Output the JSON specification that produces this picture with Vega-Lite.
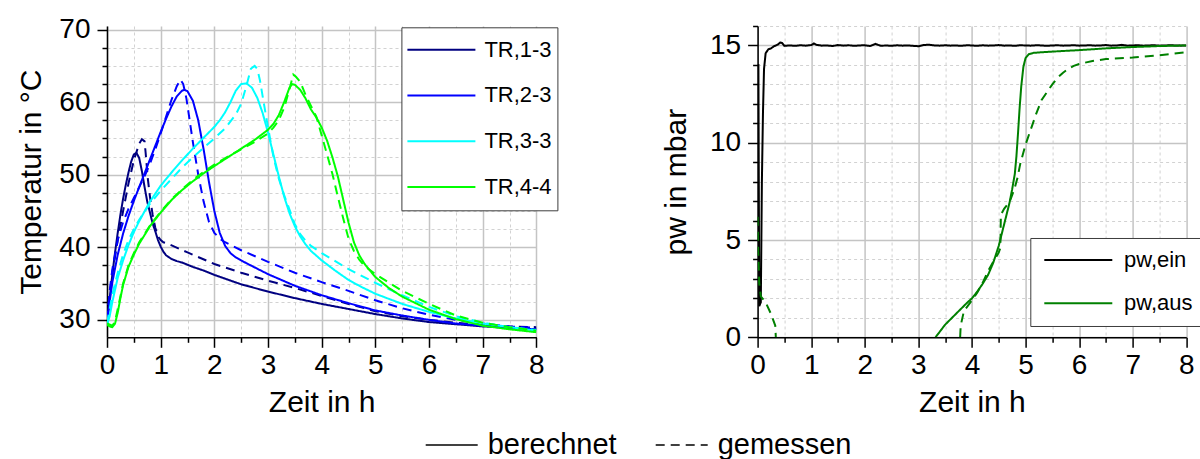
{
  "$schema": "https://vega.github.io/schema/vega-lite/v6.json",
  "background": "white",
  "padding": {"left": 16, "top": 12, "right": 0, "bottom": 0},
  "bounds": "flush",
  "spacing": 220.6,
  "config": {
    "font": "Liberation Sans",
    "view": {"stroke": null},
    "axis": {
      "domainColor": "black", "domainWidth": 1.5, "tickColor": "black", "tickWidth": 1.5,
      "labelColor": "black", "labelFontSize": 28, "titleColor": "black", "titleFontSize": 30, "titleFontWeight": "normal",
      "labelOverlap": false, "labelFlush": false, "labelBound": false
    }
  },
  "datasets": {
    "temp": [
      {"s":"TR,1-3","k":"berechnet","t":0,"T":29.8},{"s":"TR,1-3","k":"berechnet","t":0.05,"T":33},{"s":"TR,1-3","k":"berechnet","t":0.1,"T":36.3},{"s":"TR,1-3","k":"berechnet","t":0.15,"T":39.3},{"s":"TR,1-3","k":"berechnet","t":0.2,"T":42},{"s":"TR,1-3","k":"berechnet","t":0.25,"T":44.5},{"s":"TR,1-3","k":"berechnet","t":0.3,"T":46.7},{"s":"TR,1-3","k":"berechnet","t":0.35,"T":48.6},{"s":"TR,1-3","k":"berechnet","t":0.4,"T":50.3},{"s":"TR,1-3","k":"berechnet","t":0.45,"T":51.8},{"s":"TR,1-3","k":"berechnet","t":0.5,"T":52.8},{"s":"TR,1-3","k":"berechnet","t":0.55,"T":53},{"s":"TR,1-3","k":"berechnet","t":0.6,"T":52.3},{"s":"TR,1-3","k":"berechnet","t":0.65,"T":50.5},{"s":"TR,1-3","k":"berechnet","t":0.7,"T":48.3},{"s":"TR,1-3","k":"berechnet","t":0.75,"T":46.3},{"s":"TR,1-3","k":"berechnet","t":0.8,"T":44.8},{"s":"TR,1-3","k":"berechnet","t":0.85,"T":43.3},{"s":"TR,1-3","k":"berechnet","t":0.9,"T":42.2},{"s":"TR,1-3","k":"berechnet","t":0.95,"T":41},{"s":"TR,1-3","k":"berechnet","t":1,"T":40.1},{"s":"TR,1-3","k":"berechnet","t":1.05,"T":39.4},{"s":"TR,1-3","k":"berechnet","t":1.1,"T":38.9},{"s":"TR,1-3","k":"berechnet","t":1.2,"T":38.4},{"s":"TR,1-3","k":"berechnet","t":1.3,"T":38.1},{"s":"TR,1-3","k":"berechnet","t":1.4,"T":37.9},{"s":"TR,1-3","k":"berechnet","t":1.6,"T":37.3},{"s":"TR,1-3","k":"berechnet","t":1.8,"T":36.8},{"s":"TR,1-3","k":"berechnet","t":2,"T":36.2},{"s":"TR,1-3","k":"berechnet","t":2.5,"T":34.9},{"s":"TR,1-3","k":"berechnet","t":3,"T":33.9},{"s":"TR,1-3","k":"berechnet","t":3.5,"T":33},{"s":"TR,1-3","k":"berechnet","t":4,"T":32.2},{"s":"TR,1-3","k":"berechnet","t":4.5,"T":31.5},{"s":"TR,1-3","k":"berechnet","t":5,"T":30.8},{"s":"TR,1-3","k":"berechnet","t":5.5,"T":30.2},{"s":"TR,1-3","k":"berechnet","t":6,"T":29.7},{"s":"TR,1-3","k":"berechnet","t":6.5,"T":29.4},{"s":"TR,1-3","k":"berechnet","t":7,"T":29.1},{"s":"TR,1-3","k":"berechnet","t":7.5,"T":28.9},{"s":"TR,1-3","k":"berechnet","t":8,"T":28.7},
      {"s":"TR,1-3","k":"gemessen","t":0,"T":30},{"s":"TR,1-3","k":"gemessen","t":0.05,"T":33.5},{"s":"TR,1-3","k":"gemessen","t":0.1,"T":36.5},{"s":"TR,1-3","k":"gemessen","t":0.2,"T":41},{"s":"TR,1-3","k":"gemessen","t":0.3,"T":45},{"s":"TR,1-3","k":"gemessen","t":0.4,"T":48.8},{"s":"TR,1-3","k":"gemessen","t":0.5,"T":52},{"s":"TR,1-3","k":"gemessen","t":0.6,"T":54.3},{"s":"TR,1-3","k":"gemessen","t":0.65,"T":54.9},{"s":"TR,1-3","k":"gemessen","t":0.7,"T":54.6},{"s":"TR,1-3","k":"gemessen","t":0.72,"T":53},{"s":"TR,1-3","k":"gemessen","t":0.76,"T":49.5},{"s":"TR,1-3","k":"gemessen","t":0.8,"T":47},{"s":"TR,1-3","k":"gemessen","t":0.85,"T":44.5},{"s":"TR,1-3","k":"gemessen","t":0.9,"T":42.7},{"s":"TR,1-3","k":"gemessen","t":0.95,"T":41.5},{"s":"TR,1-3","k":"gemessen","t":1,"T":41},{"s":"TR,1-3","k":"gemessen","t":1.05,"T":40.7},{"s":"TR,1-3","k":"gemessen","t":1.1,"T":40.6},{"s":"TR,1-3","k":"gemessen","t":1.5,"T":39.3},{"s":"TR,1-3","k":"gemessen","t":2,"T":37.7},{"s":"TR,1-3","k":"gemessen","t":2.5,"T":36.5},{"s":"TR,1-3","k":"gemessen","t":3,"T":35.4},{"s":"TR,1-3","k":"gemessen","t":3.5,"T":34.4},{"s":"TR,1-3","k":"gemessen","t":4,"T":33.3},{"s":"TR,1-3","k":"gemessen","t":4.5,"T":32.2},{"s":"TR,1-3","k":"gemessen","t":5,"T":31.2},{"s":"TR,1-3","k":"gemessen","t":5.5,"T":30.5},{"s":"TR,1-3","k":"gemessen","t":6,"T":30},{"s":"TR,1-3","k":"gemessen","t":6.5,"T":29.6},{"s":"TR,1-3","k":"gemessen","t":7,"T":29.3},{"s":"TR,1-3","k":"gemessen","t":7.5,"T":29.1},{"s":"TR,1-3","k":"gemessen","t":8,"T":29},
      {"s":"TR,2-3","k":"berechnet","t":0,"T":29.5},{"s":"TR,2-3","k":"berechnet","t":0.05,"T":32.5},{"s":"TR,2-3","k":"berechnet","t":0.1,"T":35.2},{"s":"TR,2-3","k":"berechnet","t":0.2,"T":39},{"s":"TR,2-3","k":"berechnet","t":0.3,"T":41.9},{"s":"TR,2-3","k":"berechnet","t":0.4,"T":44.3},{"s":"TR,2-3","k":"berechnet","t":0.5,"T":46.4},{"s":"TR,2-3","k":"berechnet","t":0.6,"T":48.3},{"s":"TR,2-3","k":"berechnet","t":0.7,"T":50.2},{"s":"TR,2-3","k":"berechnet","t":0.8,"T":52.1},{"s":"TR,2-3","k":"berechnet","t":0.9,"T":54},{"s":"TR,2-3","k":"berechnet","t":1,"T":55.9},{"s":"TR,2-3","k":"berechnet","t":1.1,"T":57.7},{"s":"TR,2-3","k":"berechnet","t":1.2,"T":59.4},{"s":"TR,2-3","k":"berechnet","t":1.3,"T":60.8},{"s":"TR,2-3","k":"berechnet","t":1.4,"T":61.6},{"s":"TR,2-3","k":"berechnet","t":1.45,"T":61.7},{"s":"TR,2-3","k":"berechnet","t":1.5,"T":61.5},{"s":"TR,2-3","k":"berechnet","t":1.6,"T":60.2},{"s":"TR,2-3","k":"berechnet","t":1.7,"T":57.5},{"s":"TR,2-3","k":"berechnet","t":1.8,"T":53.5},{"s":"TR,2-3","k":"berechnet","t":1.9,"T":49},{"s":"TR,2-3","k":"berechnet","t":2,"T":45},{"s":"TR,2-3","k":"berechnet","t":2.1,"T":42},{"s":"TR,2-3","k":"berechnet","t":2.2,"T":40.2},{"s":"TR,2-3","k":"berechnet","t":2.3,"T":39.2},{"s":"TR,2-3","k":"berechnet","t":2.4,"T":38.6},{"s":"TR,2-3","k":"berechnet","t":2.6,"T":37.8},{"s":"TR,2-3","k":"berechnet","t":3,"T":36.3},{"s":"TR,2-3","k":"berechnet","t":3.5,"T":34.7},{"s":"TR,2-3","k":"berechnet","t":4,"T":33.4},{"s":"TR,2-3","k":"berechnet","t":4.5,"T":32.3},{"s":"TR,2-3","k":"berechnet","t":5,"T":31.3},{"s":"TR,2-3","k":"berechnet","t":5.5,"T":30.6},{"s":"TR,2-3","k":"berechnet","t":6,"T":30},{"s":"TR,2-3","k":"berechnet","t":6.5,"T":29.5},{"s":"TR,2-3","k":"berechnet","t":7,"T":29.2},{"s":"TR,2-3","k":"berechnet","t":7.5,"T":28.9},{"s":"TR,2-3","k":"berechnet","t":8,"T":28.7},
      {"s":"TR,2-3","k":"gemessen","t":0,"T":30},{"s":"TR,2-3","k":"gemessen","t":0.05,"T":34},{"s":"TR,2-3","k":"gemessen","t":0.1,"T":37},{"s":"TR,2-3","k":"gemessen","t":0.2,"T":41},{"s":"TR,2-3","k":"gemessen","t":0.3,"T":43.5},{"s":"TR,2-3","k":"gemessen","t":0.4,"T":45.3},{"s":"TR,2-3","k":"gemessen","t":0.5,"T":46.8},{"s":"TR,2-3","k":"gemessen","t":0.6,"T":48.3},{"s":"TR,2-3","k":"gemessen","t":0.7,"T":49.8},{"s":"TR,2-3","k":"gemessen","t":0.8,"T":51.5},{"s":"TR,2-3","k":"gemessen","t":0.9,"T":53.5},{"s":"TR,2-3","k":"gemessen","t":1,"T":55.7},{"s":"TR,2-3","k":"gemessen","t":1.1,"T":58},{"s":"TR,2-3","k":"gemessen","t":1.2,"T":60.3},{"s":"TR,2-3","k":"gemessen","t":1.3,"T":62.2},{"s":"TR,2-3","k":"gemessen","t":1.37,"T":63.1},{"s":"TR,2-3","k":"gemessen","t":1.42,"T":62.5},{"s":"TR,2-3","k":"gemessen","t":1.48,"T":60.5},{"s":"TR,2-3","k":"gemessen","t":1.55,"T":57},{"s":"TR,2-3","k":"gemessen","t":1.6,"T":54.5},{"s":"TR,2-3","k":"gemessen","t":1.7,"T":50},{"s":"TR,2-3","k":"gemessen","t":1.8,"T":46.3},{"s":"TR,2-3","k":"gemessen","t":1.9,"T":43.5},{"s":"TR,2-3","k":"gemessen","t":2,"T":42},{"s":"TR,2-3","k":"gemessen","t":2.1,"T":41.2},{"s":"TR,2-3","k":"gemessen","t":2.2,"T":40.7},{"s":"TR,2-3","k":"gemessen","t":2.5,"T":39.6},{"s":"TR,2-3","k":"gemessen","t":3,"T":38},{"s":"TR,2-3","k":"gemessen","t":3.5,"T":36.5},{"s":"TR,2-3","k":"gemessen","t":4,"T":35.2},{"s":"TR,2-3","k":"gemessen","t":4.5,"T":34},{"s":"TR,2-3","k":"gemessen","t":5,"T":32.7},{"s":"TR,2-3","k":"gemessen","t":5.5,"T":31.6},{"s":"TR,2-3","k":"gemessen","t":6,"T":30.7},{"s":"TR,2-3","k":"gemessen","t":6.5,"T":30},{"s":"TR,2-3","k":"gemessen","t":7,"T":29.5},{"s":"TR,2-3","k":"gemessen","t":7.5,"T":29.1},{"s":"TR,2-3","k":"gemessen","t":8,"T":28.9},
      {"s":"TR,3-3","k":"berechnet","t":0,"T":29.3},{"s":"TR,3-3","k":"berechnet","t":0.05,"T":30.5},{"s":"TR,3-3","k":"berechnet","t":0.1,"T":32.5},{"s":"TR,3-3","k":"berechnet","t":0.2,"T":35.8},{"s":"TR,3-3","k":"berechnet","t":0.3,"T":38.2},{"s":"TR,3-3","k":"berechnet","t":0.4,"T":40.3},{"s":"TR,3-3","k":"berechnet","t":0.5,"T":42.1},{"s":"TR,3-3","k":"berechnet","t":0.6,"T":43.6},{"s":"TR,3-3","k":"berechnet","t":0.8,"T":46.3},{"s":"TR,3-3","k":"berechnet","t":1,"T":48.5},{"s":"TR,3-3","k":"berechnet","t":1.2,"T":50.3},{"s":"TR,3-3","k":"berechnet","t":1.4,"T":52},{"s":"TR,3-3","k":"berechnet","t":1.6,"T":53.6},{"s":"TR,3-3","k":"berechnet","t":1.8,"T":55.1},{"s":"TR,3-3","k":"berechnet","t":2,"T":56.6},{"s":"TR,3-3","k":"berechnet","t":2.1,"T":57.5},{"s":"TR,3-3","k":"berechnet","t":2.2,"T":58.6},{"s":"TR,3-3","k":"berechnet","t":2.3,"T":60},{"s":"TR,3-3","k":"berechnet","t":2.4,"T":61.6},{"s":"TR,3-3","k":"berechnet","t":2.5,"T":62.5},{"s":"TR,3-3","k":"berechnet","t":2.6,"T":62.6},{"s":"TR,3-3","k":"berechnet","t":2.7,"T":62},{"s":"TR,3-3","k":"berechnet","t":2.8,"T":60.6},{"s":"TR,3-3","k":"berechnet","t":2.9,"T":58.5},{"s":"TR,3-3","k":"berechnet","t":3,"T":55.8},{"s":"TR,3-3","k":"berechnet","t":3.1,"T":52.8},{"s":"TR,3-3","k":"berechnet","t":3.2,"T":49.8},{"s":"TR,3-3","k":"berechnet","t":3.3,"T":47},{"s":"TR,3-3","k":"berechnet","t":3.4,"T":44.7},{"s":"TR,3-3","k":"berechnet","t":3.5,"T":42.9},{"s":"TR,3-3","k":"berechnet","t":3.6,"T":41.5},{"s":"TR,3-3","k":"berechnet","t":3.7,"T":40.4},{"s":"TR,3-3","k":"berechnet","t":3.8,"T":39.5},{"s":"TR,3-3","k":"berechnet","t":4,"T":38.2},{"s":"TR,3-3","k":"berechnet","t":4.25,"T":36.8},{"s":"TR,3-3","k":"berechnet","t":4.5,"T":35.5},{"s":"TR,3-3","k":"berechnet","t":4.75,"T":34.5},{"s":"TR,3-3","k":"berechnet","t":5,"T":33.6},{"s":"TR,3-3","k":"berechnet","t":5.5,"T":32.2},{"s":"TR,3-3","k":"berechnet","t":6,"T":31.1},{"s":"TR,3-3","k":"berechnet","t":6.5,"T":30.2},{"s":"TR,3-3","k":"berechnet","t":7,"T":29.5},{"s":"TR,3-3","k":"berechnet","t":7.5,"T":29},{"s":"TR,3-3","k":"berechnet","t":8,"T":28.5},
      {"s":"TR,3-3","k":"gemessen","t":0,"T":29.5},{"s":"TR,3-3","k":"gemessen","t":0.05,"T":31.5},{"s":"TR,3-3","k":"gemessen","t":0.1,"T":33.5},{"s":"TR,3-3","k":"gemessen","t":0.2,"T":36.5},{"s":"TR,3-3","k":"gemessen","t":0.3,"T":39},{"s":"TR,3-3","k":"gemessen","t":0.4,"T":41},{"s":"TR,3-3","k":"gemessen","t":0.5,"T":42.5},{"s":"TR,3-3","k":"gemessen","t":0.6,"T":43.8},{"s":"TR,3-3","k":"gemessen","t":0.8,"T":46},{"s":"TR,3-3","k":"gemessen","t":1,"T":47.8},{"s":"TR,3-3","k":"gemessen","t":1.2,"T":49.4},{"s":"TR,3-3","k":"gemessen","t":1.4,"T":51},{"s":"TR,3-3","k":"gemessen","t":1.6,"T":52.4},{"s":"TR,3-3","k":"gemessen","t":1.8,"T":53.7},{"s":"TR,3-3","k":"gemessen","t":2,"T":55},{"s":"TR,3-3","k":"gemessen","t":2.2,"T":56.4},{"s":"TR,3-3","k":"gemessen","t":2.4,"T":58.3},{"s":"TR,3-3","k":"gemessen","t":2.5,"T":59.8},{"s":"TR,3-3","k":"gemessen","t":2.6,"T":62.3},{"s":"TR,3-3","k":"gemessen","t":2.68,"T":64.6},{"s":"TR,3-3","k":"gemessen","t":2.75,"T":65},{"s":"TR,3-3","k":"gemessen","t":2.8,"T":64.6},{"s":"TR,3-3","k":"gemessen","t":2.85,"T":63},{"s":"TR,3-3","k":"gemessen","t":2.9,"T":60.8},{"s":"TR,3-3","k":"gemessen","t":3,"T":56.5},{"s":"TR,3-3","k":"gemessen","t":3.1,"T":52.5},{"s":"TR,3-3","k":"gemessen","t":3.2,"T":49.5},{"s":"TR,3-3","k":"gemessen","t":3.3,"T":47.2},{"s":"TR,3-3","k":"gemessen","t":3.4,"T":45.2},{"s":"TR,3-3","k":"gemessen","t":3.5,"T":43.2},{"s":"TR,3-3","k":"gemessen","t":3.6,"T":41.8},{"s":"TR,3-3","k":"gemessen","t":3.7,"T":40.9},{"s":"TR,3-3","k":"gemessen","t":3.8,"T":40.2},{"s":"TR,3-3","k":"gemessen","t":4,"T":39.2},{"s":"TR,3-3","k":"gemessen","t":4.5,"T":37},{"s":"TR,3-3","k":"gemessen","t":5,"T":35.1},{"s":"TR,3-3","k":"gemessen","t":5.5,"T":33.4},{"s":"TR,3-3","k":"gemessen","t":6,"T":31.8},{"s":"TR,3-3","k":"gemessen","t":6.5,"T":30.5},{"s":"TR,3-3","k":"gemessen","t":7,"T":29.6},{"s":"TR,3-3","k":"gemessen","t":7.5,"T":29},{"s":"TR,3-3","k":"gemessen","t":8,"T":28.6},
      {"s":"TR,4-4","k":"berechnet","t":0,"T":29.3},{"s":"TR,4-4","k":"berechnet","t":0.05,"T":29.1},{"s":"TR,4-4","k":"berechnet","t":0.1,"T":29},{"s":"TR,4-4","k":"berechnet","t":0.15,"T":29.5},{"s":"TR,4-4","k":"berechnet","t":0.2,"T":31},{"s":"TR,4-4","k":"berechnet","t":0.25,"T":33},{"s":"TR,4-4","k":"berechnet","t":0.3,"T":34.8},{"s":"TR,4-4","k":"berechnet","t":0.4,"T":37.3},{"s":"TR,4-4","k":"berechnet","t":0.5,"T":39},{"s":"TR,4-4","k":"berechnet","t":0.6,"T":40.5},{"s":"TR,4-4","k":"berechnet","t":0.8,"T":42.9},{"s":"TR,4-4","k":"berechnet","t":1,"T":44.8},{"s":"TR,4-4","k":"berechnet","t":1.2,"T":46.5},{"s":"TR,4-4","k":"berechnet","t":1.4,"T":47.9},{"s":"TR,4-4","k":"berechnet","t":1.6,"T":49.1},{"s":"TR,4-4","k":"berechnet","t":1.8,"T":50.2},{"s":"TR,4-4","k":"berechnet","t":2,"T":51.2},{"s":"TR,4-4","k":"berechnet","t":2.25,"T":52.4},{"s":"TR,4-4","k":"berechnet","t":2.5,"T":53.6},{"s":"TR,4-4","k":"berechnet","t":2.75,"T":54.8},{"s":"TR,4-4","k":"berechnet","t":3,"T":56.2},{"s":"TR,4-4","k":"berechnet","t":3.1,"T":57},{"s":"TR,4-4","k":"berechnet","t":3.2,"T":58.2},{"s":"TR,4-4","k":"berechnet","t":3.3,"T":60},{"s":"TR,4-4","k":"berechnet","t":3.4,"T":62},{"s":"TR,4-4","k":"berechnet","t":3.45,"T":62.5},{"s":"TR,4-4","k":"berechnet","t":3.5,"T":62.4},{"s":"TR,4-4","k":"berechnet","t":3.6,"T":61.7},{"s":"TR,4-4","k":"berechnet","t":3.7,"T":60.5},{"s":"TR,4-4","k":"berechnet","t":3.8,"T":59},{"s":"TR,4-4","k":"berechnet","t":3.9,"T":57.9},{"s":"TR,4-4","k":"berechnet","t":4,"T":56.5},{"s":"TR,4-4","k":"berechnet","t":4.1,"T":54.7},{"s":"TR,4-4","k":"berechnet","t":4.2,"T":52.4},{"s":"TR,4-4","k":"berechnet","t":4.3,"T":49.8},{"s":"TR,4-4","k":"berechnet","t":4.4,"T":46.6},{"s":"TR,4-4","k":"berechnet","t":4.5,"T":43.4},{"s":"TR,4-4","k":"berechnet","t":4.6,"T":40.7},{"s":"TR,4-4","k":"berechnet","t":4.7,"T":38.9},{"s":"TR,4-4","k":"berechnet","t":4.8,"T":37.7},{"s":"TR,4-4","k":"berechnet","t":5,"T":35.9},{"s":"TR,4-4","k":"berechnet","t":5.25,"T":34.4},{"s":"TR,4-4","k":"berechnet","t":5.5,"T":33.2},{"s":"TR,4-4","k":"berechnet","t":6,"T":31.4},{"s":"TR,4-4","k":"berechnet","t":6.5,"T":30.1},{"s":"TR,4-4","k":"berechnet","t":7,"T":29.2},{"s":"TR,4-4","k":"berechnet","t":7.5,"T":28.7},{"s":"TR,4-4","k":"berechnet","t":8,"T":28.3},
      {"s":"TR,4-4","k":"gemessen","t":0,"T":29.5},{"s":"TR,4-4","k":"gemessen","t":0.1,"T":29.2},{"s":"TR,4-4","k":"gemessen","t":0.15,"T":29.8},{"s":"TR,4-4","k":"gemessen","t":0.2,"T":31.5},{"s":"TR,4-4","k":"gemessen","t":0.3,"T":35},{"s":"TR,4-4","k":"gemessen","t":0.4,"T":37.5},{"s":"TR,4-4","k":"gemessen","t":0.5,"T":39.2},{"s":"TR,4-4","k":"gemessen","t":0.6,"T":40.7},{"s":"TR,4-4","k":"gemessen","t":0.8,"T":43},{"s":"TR,4-4","k":"gemessen","t":1,"T":44.9},{"s":"TR,4-4","k":"gemessen","t":1.2,"T":46.6},{"s":"TR,4-4","k":"gemessen","t":1.4,"T":48},{"s":"TR,4-4","k":"gemessen","t":1.6,"T":49.3},{"s":"TR,4-4","k":"gemessen","t":1.8,"T":50.4},{"s":"TR,4-4","k":"gemessen","t":2,"T":51.4},{"s":"TR,4-4","k":"gemessen","t":2.25,"T":52.5},{"s":"TR,4-4","k":"gemessen","t":2.5,"T":53.5},{"s":"TR,4-4","k":"gemessen","t":2.75,"T":54.5},{"s":"TR,4-4","k":"gemessen","t":3,"T":55.7},{"s":"TR,4-4","k":"gemessen","t":3.1,"T":56.5},{"s":"TR,4-4","k":"gemessen","t":3.2,"T":57.5},{"s":"TR,4-4","k":"gemessen","t":3.3,"T":59.2},{"s":"TR,4-4","k":"gemessen","t":3.4,"T":61.8},{"s":"TR,4-4","k":"gemessen","t":3.47,"T":63.8},{"s":"TR,4-4","k":"gemessen","t":3.52,"T":63.5},{"s":"TR,4-4","k":"gemessen","t":3.6,"T":62.8},{"s":"TR,4-4","k":"gemessen","t":3.7,"T":61},{"s":"TR,4-4","k":"gemessen","t":3.8,"T":59.5},{"s":"TR,4-4","k":"gemessen","t":3.9,"T":58},{"s":"TR,4-4","k":"gemessen","t":4,"T":55.4},{"s":"TR,4-4","k":"gemessen","t":4.1,"T":52.8},{"s":"TR,4-4","k":"gemessen","t":4.2,"T":50.1},{"s":"TR,4-4","k":"gemessen","t":4.3,"T":47},{"s":"TR,4-4","k":"gemessen","t":4.4,"T":44},{"s":"TR,4-4","k":"gemessen","t":4.5,"T":41.2},{"s":"TR,4-4","k":"gemessen","t":4.6,"T":39.5},{"s":"TR,4-4","k":"gemessen","t":4.7,"T":38.3},{"s":"TR,4-4","k":"gemessen","t":4.8,"T":37.4},{"s":"TR,4-4","k":"gemessen","t":5,"T":36.3},{"s":"TR,4-4","k":"gemessen","t":5.5,"T":34},{"s":"TR,4-4","k":"gemessen","t":6,"T":32.2},{"s":"TR,4-4","k":"gemessen","t":6.5,"T":30.6},{"s":"TR,4-4","k":"gemessen","t":7,"T":29.6},{"s":"TR,4-4","k":"gemessen","t":7.5,"T":29},{"s":"TR,4-4","k":"gemessen","t":8,"T":28.5}
    ],
    "press": [
      {"s":"pw,ein","k":"berechnet","g":"a","t":0,"p":14},{"s":"pw,ein","k":"berechnet","g":"a","t":0.015,"p":14},{"s":"pw,ein","k":"berechnet","g":"a","t":0.03,"p":1.6},{"s":"pw,ein","k":"berechnet","g":"a","t":0.06,"p":1.8},{"s":"pw,ein","k":"berechnet","g":"a","t":0.08,"p":8},{"s":"pw,ein","k":"berechnet","g":"a","t":0.1,"p":11.5},{"s":"pw,ein","k":"berechnet","g":"a","t":0.12,"p":13.8},{"s":"pw,ein","k":"berechnet","g":"a","t":0.15,"p":14.6},{"s":"pw,ein","k":"berechnet","g":"a","t":0.2,"p":14.8},{"s":"pw,ein","k":"berechnet","g":"a","t":0.25,"p":14.85},{"s":"pw,ein","k":"berechnet","g":"a","t":0.3,"p":14.95},{"s":"pw,ein","k":"berechnet","g":"a","t":0.38,"p":15.05},{"s":"pw,ein","k":"berechnet","g":"a","t":0.42,"p":15.15},{"s":"pw,ein","k":"berechnet","g":"a","t":0.46,"p":15.12},{"s":"pw,ein","k":"berechnet","g":"a","t":0.5,"p":14.98},{"s":"pw,ein","k":"berechnet","g":"a","t":0.6,"p":15},{"s":"pw,ein","k":"berechnet","g":"a","t":0.7,"p":14.98},{"s":"pw,ein","k":"berechnet","g":"a","t":0.8,"p":15.01},{"s":"pw,ein","k":"berechnet","g":"a","t":0.9,"p":14.99},{"s":"pw,ein","k":"berechnet","g":"a","t":1,"p":15.02},{"s":"pw,ein","k":"berechnet","g":"a","t":1.05,"p":15.1},{"s":"pw,ein","k":"berechnet","g":"a","t":1.1,"p":15.03},{"s":"pw,ein","k":"berechnet","g":"a","t":1.2,"p":14.99},{"s":"pw,ein","k":"berechnet","g":"a","t":1.3,"p":15},{"s":"pw,ein","k":"berechnet","g":"a","t":1.4,"p":14.97},{"s":"pw,ein","k":"berechnet","g":"a","t":1.5,"p":15.02},{"s":"pw,ein","k":"berechnet","g":"a","t":1.6,"p":14.99},{"s":"pw,ein","k":"berechnet","g":"a","t":1.7,"p":15.01},{"s":"pw,ein","k":"berechnet","g":"a","t":1.8,"p":14.98},{"s":"pw,ein","k":"berechnet","g":"a","t":1.9,"p":15},{"s":"pw,ein","k":"berechnet","g":"a","t":2,"p":15.01},{"s":"pw,ein","k":"berechnet","g":"a","t":2.1,"p":14.97},{"s":"pw,ein","k":"berechnet","g":"a","t":2.2,"p":15.08},{"s":"pw,ein","k":"berechnet","g":"a","t":2.3,"p":14.98},{"s":"pw,ein","k":"berechnet","g":"a","t":2.4,"p":15},{"s":"pw,ein","k":"berechnet","g":"a","t":2.5,"p":14.98},{"s":"pw,ein","k":"berechnet","g":"a","t":2.6,"p":15.01},{"s":"pw,ein","k":"berechnet","g":"a","t":2.7,"p":14.99},{"s":"pw,ein","k":"berechnet","g":"a","t":2.8,"p":15},{"s":"pw,ein","k":"berechnet","g":"a","t":2.9,"p":14.98},{"s":"pw,ein","k":"berechnet","g":"a","t":3,"p":14.96},{"s":"pw,ein","k":"berechnet","g":"a","t":3.1,"p":15.02},{"s":"pw,ein","k":"berechnet","g":"a","t":3.2,"p":15.04},{"s":"pw,ein","k":"berechnet","g":"a","t":3.3,"p":15},{"s":"pw,ein","k":"berechnet","g":"a","t":3.4,"p":14.99},{"s":"pw,ein","k":"berechnet","g":"a","t":3.5,"p":15.01},{"s":"pw,ein","k":"berechnet","g":"a","t":3.6,"p":14.99},{"s":"pw,ein","k":"berechnet","g":"a","t":3.7,"p":15},{"s":"pw,ein","k":"berechnet","g":"a","t":3.8,"p":14.98},{"s":"pw,ein","k":"berechnet","g":"a","t":3.9,"p":15.01},{"s":"pw,ein","k":"berechnet","g":"a","t":4,"p":15},{"s":"pw,ein","k":"berechnet","g":"a","t":4.1,"p":14.98},{"s":"pw,ein","k":"berechnet","g":"a","t":4.2,"p":15.01},{"s":"pw,ein","k":"berechnet","g":"a","t":4.3,"p":14.99},{"s":"pw,ein","k":"berechnet","g":"a","t":4.4,"p":15},{"s":"pw,ein","k":"berechnet","g":"a","t":4.5,"p":15.02},{"s":"pw,ein","k":"berechnet","g":"a","t":4.6,"p":14.99},{"s":"pw,ein","k":"berechnet","g":"a","t":4.7,"p":15},{"s":"pw,ein","k":"berechnet","g":"a","t":4.8,"p":14.98},{"s":"pw,ein","k":"berechnet","g":"a","t":4.9,"p":15.01},{"s":"pw,ein","k":"berechnet","g":"a","t":5,"p":15},{"s":"pw,ein","k":"berechnet","g":"a","t":5.1,"p":14.99},{"s":"pw,ein","k":"berechnet","g":"a","t":5.2,"p":15.01},{"s":"pw,ein","k":"berechnet","g":"a","t":5.3,"p":15},{"s":"pw,ein","k":"berechnet","g":"a","t":5.4,"p":14.98},{"s":"pw,ein","k":"berechnet","g":"a","t":5.5,"p":15},{"s":"pw,ein","k":"berechnet","g":"a","t":5.6,"p":15.01},{"s":"pw,ein","k":"berechnet","g":"a","t":5.7,"p":14.99},{"s":"pw,ein","k":"berechnet","g":"a","t":5.8,"p":15},{"s":"pw,ein","k":"berechnet","g":"a","t":5.9,"p":15.01},{"s":"pw,ein","k":"berechnet","g":"a","t":6,"p":14.99},{"s":"pw,ein","k":"berechnet","g":"a","t":6.1,"p":15},{"s":"pw,ein","k":"berechnet","g":"a","t":6.2,"p":15.01},{"s":"pw,ein","k":"berechnet","g":"a","t":6.3,"p":14.99},{"s":"pw,ein","k":"berechnet","g":"a","t":6.4,"p":15},{"s":"pw,ein","k":"berechnet","g":"a","t":6.5,"p":15.02},{"s":"pw,ein","k":"berechnet","g":"a","t":6.6,"p":14.99},{"s":"pw,ein","k":"berechnet","g":"a","t":6.7,"p":15},{"s":"pw,ein","k":"berechnet","g":"a","t":6.8,"p":15.03},{"s":"pw,ein","k":"berechnet","g":"a","t":6.9,"p":14.99},{"s":"pw,ein","k":"berechnet","g":"a","t":7,"p":15},{"s":"pw,ein","k":"berechnet","g":"a","t":7.1,"p":15.01},{"s":"pw,ein","k":"berechnet","g":"a","t":7.2,"p":14.99},{"s":"pw,ein","k":"berechnet","g":"a","t":7.3,"p":15},{"s":"pw,ein","k":"berechnet","g":"a","t":7.4,"p":15.01},{"s":"pw,ein","k":"berechnet","g":"a","t":7.5,"p":14.99},{"s":"pw,ein","k":"berechnet","g":"a","t":7.6,"p":15},{"s":"pw,ein","k":"berechnet","g":"a","t":7.7,"p":15.01},{"s":"pw,ein","k":"berechnet","g":"a","t":7.8,"p":15},{"s":"pw,ein","k":"berechnet","g":"a","t":7.9,"p":14.99},{"s":"pw,ein","k":"berechnet","g":"a","t":8,"p":15},
      {"s":"pw,aus","k":"berechnet","g":"a","t":3.32,"p":0},{"s":"pw,aus","k":"berechnet","g":"a","t":3.5,"p":0.65},{"s":"pw,aus","k":"berechnet","g":"a","t":3.7,"p":1.2},{"s":"pw,aus","k":"berechnet","g":"a","t":3.9,"p":1.75},{"s":"pw,aus","k":"berechnet","g":"a","t":4,"p":2},{"s":"pw,aus","k":"berechnet","g":"a","t":4.1,"p":2.35},{"s":"pw,aus","k":"berechnet","g":"a","t":4.2,"p":2.75},{"s":"pw,aus","k":"berechnet","g":"a","t":4.3,"p":3.2},{"s":"pw,aus","k":"berechnet","g":"a","t":4.4,"p":3.85},{"s":"pw,aus","k":"berechnet","g":"a","t":4.5,"p":4.7},{"s":"pw,aus","k":"berechnet","g":"a","t":4.6,"p":5.8},{"s":"pw,aus","k":"berechnet","g":"a","t":4.7,"p":6.9},{"s":"pw,aus","k":"berechnet","g":"a","t":4.75,"p":7.6},{"s":"pw,aus","k":"berechnet","g":"a","t":4.8,"p":8.4},{"s":"pw,aus","k":"berechnet","g":"a","t":4.83,"p":9.3},{"s":"pw,aus","k":"berechnet","g":"a","t":4.86,"p":10.5},{"s":"pw,aus","k":"berechnet","g":"a","t":4.89,"p":11.8},{"s":"pw,aus","k":"berechnet","g":"a","t":4.92,"p":12.9},{"s":"pw,aus","k":"berechnet","g":"a","t":4.96,"p":13.9},{"s":"pw,aus","k":"berechnet","g":"a","t":5,"p":14.35},{"s":"pw,aus","k":"berechnet","g":"a","t":5.06,"p":14.55},{"s":"pw,aus","k":"berechnet","g":"a","t":5.15,"p":14.62},{"s":"pw,aus","k":"berechnet","g":"a","t":5.3,"p":14.65},{"s":"pw,aus","k":"berechnet","g":"a","t":5.6,"p":14.7},{"s":"pw,aus","k":"berechnet","g":"a","t":6,"p":14.76},{"s":"pw,aus","k":"berechnet","g":"a","t":6.5,"p":14.85},{"s":"pw,aus","k":"berechnet","g":"a","t":7,"p":14.92},{"s":"pw,aus","k":"berechnet","g":"a","t":7.5,"p":14.97},{"s":"pw,aus","k":"berechnet","g":"a","t":8,"p":15},
      {"s":"pw,aus","k":"gemessen","g":"a","t":0,"p":6.2},{"s":"pw,aus","k":"gemessen","g":"a","t":0.01,"p":4.5},{"s":"pw,aus","k":"gemessen","g":"a","t":0.03,"p":2.8},{"s":"pw,aus","k":"gemessen","g":"a","t":0.06,"p":2.1},{"s":"pw,aus","k":"gemessen","g":"a","t":0.15,"p":1.8},{"s":"pw,aus","k":"gemessen","g":"a","t":0.25,"p":1.2},{"s":"pw,aus","k":"gemessen","g":"a","t":0.33,"p":0.6},{"s":"pw,aus","k":"gemessen","g":"a","t":0.34,"p":0},
      {"s":"pw,aus","k":"gemessen","g":"b","t":3.78,"p":0},{"s":"pw,aus","k":"gemessen","g":"b","t":3.79,"p":0.6},{"s":"pw,aus","k":"gemessen","g":"b","t":3.85,"p":1.35},{"s":"pw,aus","k":"gemessen","g":"b","t":4,"p":1.9},{"s":"pw,aus","k":"gemessen","g":"b","t":4.1,"p":2.3},{"s":"pw,aus","k":"gemessen","g":"b","t":4.2,"p":2.8},{"s":"pw,aus","k":"gemessen","g":"b","t":4.3,"p":3.4},{"s":"pw,aus","k":"gemessen","g":"b","t":4.4,"p":3.9},{"s":"pw,aus","k":"gemessen","g":"b","t":4.5,"p":4.35},{"s":"pw,aus","k":"gemessen","g":"b","t":4.53,"p":4.6},{"s":"pw,aus","k":"gemessen","g":"b","t":4.54,"p":6.3},{"s":"pw,aus","k":"gemessen","g":"b","t":4.6,"p":6.6},{"s":"pw,aus","k":"gemessen","g":"b","t":4.7,"p":6.95},{"s":"pw,aus","k":"gemessen","g":"b","t":4.75,"p":7.3},{"s":"pw,aus","k":"gemessen","g":"b","t":4.8,"p":7.7},{"s":"pw,aus","k":"gemessen","g":"b","t":4.85,"p":8.2},{"s":"pw,aus","k":"gemessen","g":"b","t":4.9,"p":8.9},{"s":"pw,aus","k":"gemessen","g":"b","t":5,"p":9.9},{"s":"pw,aus","k":"gemessen","g":"b","t":5.1,"p":10.7},{"s":"pw,aus","k":"gemessen","g":"b","t":5.2,"p":11.5},{"s":"pw,aus","k":"gemessen","g":"b","t":5.3,"p":12.2},{"s":"pw,aus","k":"gemessen","g":"b","t":5.4,"p":12.6},{"s":"pw,aus","k":"gemessen","g":"b","t":5.5,"p":13},{"s":"pw,aus","k":"gemessen","g":"b","t":5.6,"p":13.35},{"s":"pw,aus","k":"gemessen","g":"b","t":5.7,"p":13.6},{"s":"pw,aus","k":"gemessen","g":"b","t":5.8,"p":13.8},{"s":"pw,aus","k":"gemessen","g":"b","t":5.9,"p":13.95},{"s":"pw,aus","k":"gemessen","g":"b","t":6,"p":14.05},{"s":"pw,aus","k":"gemessen","g":"b","t":6.25,"p":14.2},{"s":"pw,aus","k":"gemessen","g":"b","t":6.5,"p":14.3},{"s":"pw,aus","k":"gemessen","g":"b","t":7,"p":14.38},{"s":"pw,aus","k":"gemessen","g":"b","t":7.5,"p":14.5},{"s":"pw,aus","k":"gemessen","g":"b","t":8,"p":14.65}
    ]
  },
  "hconcat": [
    {
      "width": 429.4,
      "height": 311.3,
      "data": {"name": "temp"},
      "mark": {"type": "line", "strokeWidth": 2, "clip": true},
      "encoding": {
        "x": {
          "field": "t", "type": "quantitative",
          "scale": {"domain": [0, 8], "nice": false, "zero": false},
          "axis": {
            "title": "Zeit in h",
            "values": [0,0.5,1,1.5,2,2.5,3,3.5,4,4.5,5,5.5,6,6.5,7,7.5,8],
            "labelExpr": "datum.value % 1 === 0 ? format(datum.value, 'd') : ''",
            "tickSize": {"condition": {"test": "datum.value % 1 === 0", "value": 10}, "value": 5},
            "gridDash": {"condition": {"test": "datum.value % 1 === 0", "value": []}, "value": [3, 3]},
            "gridColor": {"condition": {"test": "datum.value % 1 === 0", "value": "#c4c4c4"}, "value": "#d2d2d2"},
            "gridWidth": {"condition": {"test": "datum.value % 1 === 0", "value": 1.5}, "value": 1},
            "labelPadding": 4,
            "titlePadding": 8
          }
        },
        "y": {
          "field": "T", "type": "quantitative",
          "scale": {"domain": [27.6, 70.5], "nice": false, "zero": false},
          "axis": {
            "title": "Temperatur in °C",
            "values": [30,32.5,35,37.5,40,42.5,45,47.5,50,52.5,55,57.5,60,62.5,65,67.5,70],
            "labelExpr": "datum.value % 10 === 0 ? format(datum.value, 'd') : ''",
            "tickSize": {"condition": {"test": "datum.value % 10 === 0", "value": 10}, "value": 5},
            "gridDash": {"condition": {"test": "datum.value % 10 === 0", "value": []}, "value": [3, 3]},
            "gridColor": {"condition": {"test": "datum.value % 10 === 0", "value": "#c4c4c4"}, "value": "#d2d2d2"},
            "gridWidth": {"condition": {"test": "datum.value % 10 === 0", "value": 1.5}, "value": 1},
            "labelPadding": 7,
            "titlePadding": 12
          }
        },
        "color": {
          "field": "s", "type": "nominal",
          "scale": {"domain": ["TR,1-3", "TR,2-3", "TR,3-3", "TR,4-4"], "range": ["#000080", "#0000ff", "#00ffff", "#00ff00"]},
          "legend": {
            "orient": "none", "legendX": 294.4, "legendY": 1.3, "title": null,
            "fillColor": "white", "strokeColor": "#3c3c3c", "padding": 5,
            "symbolType": "stroke", "symbolSize": 4624, "symbolStrokeWidth": 2,
            "labelFontSize": 22, "labelColor": "black", "labelOffset": 8,
            "clipHeight": 35, "rowPadding": 10.7
          }
        },
        "strokeDash": {
          "field": "k", "type": "nominal",
          "scale": {"domain": ["berechnet", "gemessen"], "range": [[1, 0], [9, 6]]},
          "legend": {
            "orient": "none", "legendX": 317.7, "legendY": 404, "direction": "horizontal", "title": null,
            "symbolType": "stroke", "symbolSize": 2704, "symbolStrokeColor": "black", "symbolStrokeWidth": 1.5,
            "labelFontSize": 29, "labelColor": "black", "labelOffset": 9, "columnPadding": 38, "clipHeight": 30, "padding": 0
          }
        }
      }
    },
    {
      "width": 428.7,
      "height": 311.3,
      "data": {"name": "press"},
      "mark": {"type": "line", "strokeWidth": 2, "clip": true},
      "encoding": {
        "x": {
          "field": "t", "type": "quantitative",
          "scale": {"domain": [0, 8], "nice": false, "zero": false},
          "axis": {
            "title": "Zeit in h",
            "values": [0,0.5,1,1.5,2,2.5,3,3.5,4,4.5,5,5.5,6,6.5,7,7.5,8],
            "labelExpr": "datum.value % 1 === 0 ? format(datum.value, 'd') : ''",
            "tickSize": {"condition": {"test": "datum.value % 1 === 0", "value": 10}, "value": 5},
            "gridDash": {"condition": {"test": "datum.value % 1 === 0", "value": []}, "value": [3, 3]},
            "gridColor": {"condition": {"test": "datum.value % 1 === 0", "value": "#c4c4c4"}, "value": "#d2d2d2"},
            "gridWidth": {"condition": {"test": "datum.value % 1 === 0", "value": 1.5}, "value": 1},
            "labelPadding": 4,
            "titlePadding": 8
          }
        },
        "y": {
          "field": "p", "type": "quantitative",
          "scale": {"domain": [0, 16], "nice": false},
          "axis": {
            "title": "pw in mbar",
            "values": [0,1,2,3,4,5,6,7,8,9,10,11,12,13,14,15,16],
            "labelExpr": "datum.value % 5 === 0 ? format(datum.value, 'd') : ''",
            "tickSize": {"condition": {"test": "datum.value % 5 === 0", "value": 10}, "value": 5},
            "gridDash": {"condition": {"test": "datum.value % 5 === 0", "value": []}, "value": [3, 3]},
            "gridColor": {"condition": {"test": "datum.value % 5 === 0", "value": "#c4c4c4"}, "value": "#d2d2d2"},
            "gridWidth": {"condition": {"test": "datum.value % 5 === 0", "value": 1.5}, "value": 1},
            "labelPadding": 7,
            "titlePadding": 18
          }
        },
        "color": {
          "field": "s", "type": "nominal",
          "scale": {"domain": ["pw,ein", "pw,aus"], "range": ["#000000", "#008000"]},
          "legend": {
            "orient": "none", "legendX": 272.7, "legendY": 212, "title": null,
            "fillColor": "white", "strokeColor": "#3c3c3c", "padding": 8,
            "symbolType": "stroke", "symbolSize": 4624, "symbolStrokeWidth": 2, "symbolOffset": 5,
            "labelFontSize": 22, "labelColor": "black", "labelOffset": 10.7,
            "clipHeight": 28, "rowPadding": 15.3
          }
        },
        "strokeDash": {
          "field": "k", "type": "nominal",
          "scale": {"domain": ["berechnet", "gemessen"], "range": [[1, 0], [9, 6]]},
          "legend": {
            "orient": "none", "legendX": 317.7, "legendY": 404, "direction": "horizontal", "title": null,
            "symbolType": "stroke", "symbolSize": 2704, "symbolStrokeColor": "black", "symbolStrokeWidth": 1.5,
            "labelFontSize": 29, "labelColor": "black", "labelOffset": 9, "columnPadding": 38, "clipHeight": 30, "padding": 0
          }
        },
        "detail": {"field": "g", "type": "nominal"}
      }
    }
  ],
  "resolve": {
    "scale": {"color": "independent", "strokeDash": "shared"},
    "legend": {"color": "independent", "strokeDash": "shared"}
  }
}
